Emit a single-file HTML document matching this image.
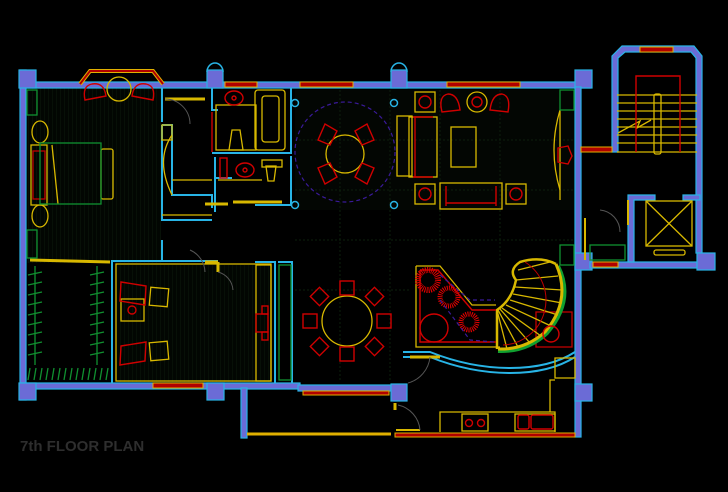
<!DOCTYPE html>
<html><head><meta charset="utf-8"><style>
html,body{margin:0;padding:0;background:#000;}
svg{display:block}
</style></head><body>
<svg width="728" height="492" viewBox="0 0 728 492" xmlns="http://www.w3.org/2000/svg">
<rect width="728" height="492" fill="#000"/>
<defs>
<pattern id="hatch" width="4" height="4" patternUnits="userSpaceOnUse"><rect width="4" height="4" fill="#020602"/><line x1="0" y1="0" x2="0" y2="4" stroke="#0c1a0c" stroke-width="1"/></pattern>
</defs>
<rect x="26" y="88" width="135" height="175" fill="url(#hatch)"/>
<rect x="116" y="265" width="155" height="117" fill="url(#hatch)"/>
<rect x="295" y="90" width="280" height="120" fill="#030603"/>
<g stroke="#0c1f0c" stroke-width="1" stroke-dasharray="2 2" fill="none">
<line x1="295" y1="140" x2="575" y2="140"/><line x1="295" y1="190" x2="575" y2="190"/><line x1="295" y1="240" x2="575" y2="240"/><line x1="295" y1="290" x2="410" y2="290"/>
<line x1="340" y1="90" x2="340" y2="380"/><line x1="390" y1="90" x2="390" y2="380"/><line x1="440" y1="90" x2="440" y2="260"/><line x1="500" y1="90" x2="500" y2="260"/>
</g>

<g fill="#6b6bd6" stroke="#28b4e6" stroke-width="1.2">
<rect x="20" y="82" width="570" height="6"/>
<rect x="20" y="70" width="6" height="330"/>
<rect x="19" y="70" width="17" height="18"/>
<rect x="207" y="70" width="16" height="18"/>
<rect x="391" y="70" width="16" height="18"/>
<rect x="575" y="70" width="17" height="18"/>
<rect x="575" y="87" width="6" height="350"/>
<rect x="575" y="253" width="17" height="17"/>
<rect x="575" y="384" width="17" height="17"/>
<rect x="20" y="383" width="280" height="6"/>
<rect x="19" y="383" width="17" height="17"/>
<rect x="207" y="383" width="17" height="17"/>
<rect x="298" y="385" width="93" height="6"/>
<rect x="241" y="388" width="6" height="50"/>
<rect x="391" y="384" width="16" height="17"/>
<path d="M612 152 L612 56 L622 46 L694 46 L702 56 L702 253 L696 253 L696 58 L691 52 L625 52 L618 58 L618 152 Z"/>
<rect x="590" y="262" width="112" height="6"/>
<rect x="697" y="253" width="18" height="17"/>
<path d="M628 262 L628 195 L655 195 L655 200 L634 200 L634 262 Z"/>
<path d="M683 195 L700 195 L700 200 L683 200 Z"/>
</g>
<g fill="none" stroke="#28b4e6" stroke-width="1.5">
<path d="M207 72 A8 9 0 0 1 223 72"/>
<path d="M391 72 A8 9 0 0 1 407 72"/>
</g>

<g fill="#b00000" stroke="#e0b000" stroke-width="1">
<rect x="225" y="82" width="32" height="5"/>
<rect x="300" y="82" width="53" height="5"/>
<rect x="447" y="82" width="73" height="5"/>
<rect x="640" y="47" width="33" height="5"/>
<rect x="581" y="147" width="31" height="5"/>
<rect x="593" y="262" width="25" height="5"/>
<rect x="153" y="383" width="50" height="5"/>
<rect x="303" y="391" width="86" height="4"/>
<rect x="395" y="433" width="180" height="4"/>
</g>
<path d="M80 84 L90 71 L153 71 L163 84" fill="none" stroke="#e0b000" stroke-width="4"/>
<path d="M80 84 L90 71 L153 71 L163 84" fill="none" stroke="#b00000" stroke-width="2"/>
<line x1="247" y1="434" x2="391" y2="434" stroke="#e0b000" stroke-width="3"/>

<g fill="none" stroke="#28b4e6" stroke-width="2">
<path d="M162 88 L162 122 M162 125 L172 125 L172 195 L212 195 L212 208"/>
<path d="M162 125 L162 220 L212 220"/>
<path d="M212 88 L212 110 L218 110"/>
<path d="M212 153 L291 153 L291 88"/>
<path d="M215 157 L215 212 M215 178 L232 178"/>
<path d="M255 205 L291 205 L291 156"/>
<path d="M162 260 L162 240"/>
<path d="M112 383 L112 261 L162 261 L162 255 M162 261 L218 261"/>
<path d="M255 262 L275 262 L275 383 M278 262 L292 262 L292 383"/>
<path d="M403 352 L430 352 Q470 368 510 368 Q550 368 575 352"/>
<path d="M403 357 L430 357 Q470 373 510 373 Q550 373 575 357"/>
</g>
<g fill="none" stroke="#28b4e6" stroke-width="1.5">
<circle cx="295" cy="103" r="3.5"/><circle cx="295" cy="205" r="3.5"/>
<circle cx="394" cy="103" r="3.5"/><circle cx="394" cy="205" r="3.5"/>
</g>

<g fill="none" stroke="#d8b800" stroke-width="1.3">
<line x1="165" y1="99" x2="205" y2="99" stroke-width="3"/>
<rect x="162" y="125" width="10" height="15"/>
<path d="M172 135 Q155 160 172 195"/>
<line x1="172" y1="180" x2="212" y2="180"/>
<line x1="162" y1="215" x2="212" y2="215"/>
<rect x="255" y="90" width="30" height="60" rx="3"/>
<rect x="262" y="96" width="17" height="46" rx="3"/>
<path d="M229 150 L232 130 L240 130 L243 150 Z"/>
<rect x="216" y="105" width="40" height="45"/>
<path d="M266 166 L276 166 L274 181 L268 181 Z"/>
<rect x="262" y="160" width="20" height="7"/>
<line x1="218" y1="180" x2="262" y2="180"/>
<line x1="233" y1="202" x2="282" y2="202" stroke-width="3"/>
<line x1="205" y1="204" x2="228" y2="204" stroke-width="3"/>
<line x1="205" y1="262" x2="218" y2="262" stroke-width="3"/>
<line x1="218" y1="262" x2="218" y2="272" stroke-width="3"/>
<line x1="30" y1="260" x2="110" y2="262" stroke-width="3"/>
<rect x="31" y="145" width="16" height="60"/>
<rect x="33" y="151" width="12" height="48" stroke="#c00000"/>
<ellipse cx="40" cy="132" rx="8" ry="11"/>
<ellipse cx="40" cy="216" rx="8" ry="11"/>
<rect x="101" y="149" width="12" height="50" rx="2"/>
<path d="M52 145 L58 204"/>
<circle cx="119" cy="89" r="12"/>
<rect x="116" y="264" width="155" height="117"/>
<rect x="256" y="265" width="15" height="116"/>
<rect x="121" y="299" width="23" height="22"/>
<rect x="150" y="288" width="18" height="18" transform="rotate(5 159 297)"/>
<rect x="150" y="342" width="18" height="18" transform="rotate(-5 159 351)"/>
<rect x="397" y="116" width="15" height="60"/>
<rect x="409" y="117" width="28" height="60"/>
<rect x="451" y="127" width="25" height="40"/>
<rect x="415" y="92" width="20" height="20"/>
<rect x="415" y="184" width="20" height="20"/>
<rect x="506" y="184" width="20" height="20"/>
<rect x="440" y="183" width="62" height="26"/>
<circle cx="477" cy="102" r="10"/>
<path d="M560 110 Q548 150 560 190"/>
<line x1="560" y1="110" x2="560" y2="200"/>
<line x1="617" y1="95" x2="697" y2="95"/><line x1="617" y1="103" x2="697" y2="103"/>
<line x1="617" y1="111" x2="697" y2="111"/><line x1="617" y1="119" x2="697" y2="119"/>
<line x1="617" y1="127" x2="697" y2="127"/><line x1="617" y1="135" x2="697" y2="135"/>
<line x1="617" y1="143" x2="697" y2="143"/><line x1="617" y1="152" x2="697" y2="152"/>
<rect x="654" y="94" width="7" height="60" rx="2"/>
<path d="M618 133 L640 121 L637 128 L651 120"/>
<rect x="646" y="201" width="46" height="45"/>
<line x1="646" y1="201" x2="692" y2="246"/><line x1="692" y1="201" x2="646" y2="246"/>
<rect x="654" y="250" width="31" height="5" rx="2"/>
<line x1="585" y1="218" x2="585" y2="260" stroke-width="2"/>
<line x1="628" y1="200" x2="628" y2="225" stroke-width="2"/>
<circle cx="345" cy="154" r="19"/>
<circle cx="347" cy="321" r="25"/>
<path d="M416 266 L440 266 L472 305 L496 305 M416 266 L416 347 L500 347"/>
<rect x="536" y="312" width="36" height="35" stroke="#c00000"/>
<path d="M555 358 L575 358 L575 378 L555 378 Z"/>
<path d="M555 380 L550 380 L550 412 M440 432 L440 412 L555 412 L555 432"/>
<rect x="462" y="414" width="26" height="17"/>
<rect x="515" y="414" width="40" height="17"/>
<line x1="410" y1="357" x2="440" y2="357" stroke-width="3"/>
<line x1="395" y1="403" x2="395" y2="410" stroke-width="3"/>
<line x1="396" y1="430" x2="420" y2="430" stroke-width="2"/>
</g>

<!-- spiral stair -->
<path d="M558 266 Q575 300 547 333 Q527 352 498 351" fill="none" stroke="#10a030" stroke-width="4"/>
<g fill="none" stroke="#d8b800">
<path d="M556 264 Q572 300 545 332 Q525 350 498 349" stroke-width="3"/>
<path d="M556 264 Q540 256 520 262 Q508 270 516 280 Q512 300 497 310 L497 349" stroke-width="2.5"/>
<g stroke-width="1.3">
<line x1="518" y1="270" x2="550" y2="262"/><line x1="516" y1="280" x2="558" y2="276"/>
<line x1="515" y1="287" x2="562" y2="290"/><line x1="513" y1="294" x2="562" y2="303"/>
<line x1="510" y1="300" x2="558" y2="315"/><line x1="506" y1="305" x2="551" y2="326"/>
<line x1="502" y1="308" x2="541" y2="336"/><line x1="500" y1="309" x2="530" y2="343"/>
<line x1="498" y1="310" x2="518" y2="347"/><line x1="497" y1="310" x2="507" y2="349"/>
</g>
</g>
<path d="M525 262 A45 45 0 0 1 503 345" fill="none" stroke="#c00000" stroke-width="1"/>

<g fill="none" stroke="#109030" stroke-width="1.3">
<rect x="40" y="143" width="61" height="61"/>
<rect x="27" y="90" width="10" height="25"/>
<rect x="27" y="230" width="10" height="28"/>
<line x1="35" y1="266" x2="35" y2="365"/><line x1="97" y1="266" x2="97" y2="365"/>
<path d="M28 275 L42 272 M28 285 L42 282 M28 295 L42 292 M28 305 L42 302 M28 315 L42 312 M28 325 L42 322 M28 335 L42 332 M28 345 L42 342 M28 355 L42 352"/>
<path d="M90 275 L104 272 M90 285 L104 282 M90 295 L104 292 M90 305 L104 302 M90 315 L104 312 M90 325 L104 322 M90 335 L104 332 M90 345 L104 342 M90 355 L104 352"/>
<path d="M28 380 L30 368 M34 380 L36 368 M40 380 L42 368 M46 380 L48 368 M52 380 L54 368 M58 380 L60 368 M64 380 L66 368 M70 380 L72 368 M76 380 L78 368 M82 380 L84 368 M88 380 L90 368 M94 380 L96 368 M100 380 L102 368 M106 380 L108 368"/>
<rect x="279" y="265" width="12" height="115"/>
<rect x="560" y="90" width="14" height="20"/>
<rect x="560" y="245" width="14" height="20"/>
<rect x="590" y="245" width="35" height="15"/>
</g>

<g fill="none" stroke="#d00000" stroke-width="1.4">
<path d="M85 100 Q82 86 92 84 Q104 82 106 96 Z"/>
<path d="M132 96 Q134 82 146 84 Q156 86 153 100 Z"/>
<ellipse cx="234" cy="98" rx="9" ry="7"/><circle cx="234" cy="98" r="2"/>
<ellipse cx="245" cy="170" rx="9" ry="7"/><circle cx="245" cy="170" r="2"/>
<rect x="220" y="158" width="7" height="20"/>
<line x1="212" y1="112" x2="212" y2="152"/>
<path d="M318 140 L325 124 L337 131 L330 145 Z"/><path d="M355 131 L367 124 L374 140 L362 145 Z"/>
<path d="M318 168 L330 163 L337 177 L325 184 Z"/><path d="M362 163 L374 168 L367 184 L355 177 Z"/>
<path d="M442 112 Q438 96 448 94 Q458 94 460 110 Z"/>
<path d="M490 110 Q492 94 502 94 Q511 96 508 112 Z"/>
<circle cx="477" cy="102" r="5"/>
<path d="M415 117 L415 177 M413 117 L433 117 M413 177 L433 177"/>
<line x1="446" y1="186" x2="446" y2="206"/><line x1="496" y1="186" x2="496" y2="206"/><line x1="446" y1="203" x2="496" y2="203"/>
<circle cx="425" cy="102" r="6"/><circle cx="425" cy="194" r="6"/><circle cx="516" cy="194" r="6"/>
<path d="M558 148 L568 146 L572 156 L568 164 L558 162 Z"/>
<path d="M636 152 L636 76 L680 76 L680 152"/>
<path d="M121 282 L146 286 L145 305 L120 301 Z"/><path d="M121 346 L146 342 L145 361 L120 365 Z"/>
<circle cx="132" cy="310" r="4"/>
<rect x="256" y="314" width="12" height="18"/><rect x="262" y="306" width="6" height="8"/><rect x="262" y="332" width="6" height="8"/>
<rect x="340" y="281" width="14" height="14"/><rect x="340" y="347" width="14" height="14"/>
<rect x="303" y="314" width="14" height="14"/><rect x="377" y="314" width="14" height="14"/>
<rect x="313" y="290" width="13" height="13" transform="rotate(45 319.5 296.5)"/>
<rect x="368" y="290" width="13" height="13" transform="rotate(45 374.5 296.5)"/>
<rect x="313" y="340" width="13" height="13" transform="rotate(45 319.5 346.5)"/>
<rect x="368" y="340" width="13" height="13" transform="rotate(45 374.5 346.5)"/>
<path d="M420 270 L438 270 L472 310 L496 310 M496 342 L420 342 L420 270"/>
<circle cx="434" cy="328" r="14"/><circle cx="551" cy="334" r="8"/>
<circle cx="469" cy="423" r="3.5"/><circle cx="481" cy="423" r="3.5"/>
<rect x="518" y="415" width="11" height="14" rx="2"/><rect x="531" y="415" width="22" height="14" rx="2"/>
</g>
<g stroke="#e00000" stroke-width="1">
<circle cx="428" cy="280" r="10" fill="none" stroke-dasharray="1 1" stroke-width="6"/>
<circle cx="449" cy="297" r="9" fill="none" stroke-dasharray="1 1" stroke-width="5"/>
<circle cx="469" cy="322" r="8" fill="none" stroke-dasharray="1 1" stroke-width="5"/>
</g>
<g fill="none" stroke="#3a1a9a" stroke-width="1.2" stroke-dasharray="4 3">
<circle cx="345" cy="152" r="50"/>
<path d="M440 275 L470 300 L495 300 M440 300 L470 340 L495 342"/>
</g>

<g fill="none" stroke="#555" stroke-width="1">
<path d="M165 99 A25 25 0 0 1 190 124"/>
<path d="M205 272 A25 25 0 0 0 190 250"/>
<path d="M218 272 A20 20 0 0 1 233 290"/>
<path d="M600 210 A22 22 0 0 1 620 232"/>
<path d="M430 357 A30 30 0 0 1 408 383"/>
<path d="M398 405 A28 28 0 0 1 420 430"/>
</g>

<text x="20" y="451" font-family="Liberation Sans, sans-serif" font-weight="bold" font-size="15" fill="#2e2e2e">7th FLOOR PLAN</text>
</svg>
</body></html>
